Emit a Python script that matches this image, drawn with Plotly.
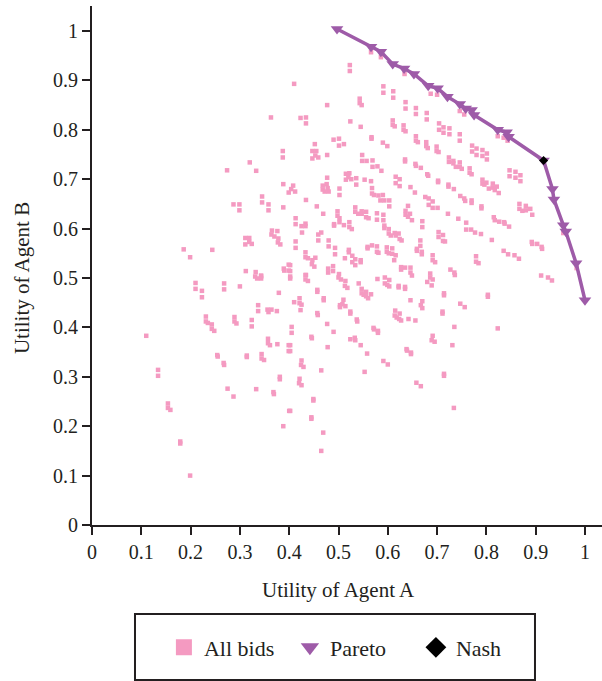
import plotly.graph_objects as go

# ---- data (utility of agent A, utility of agent B) ----
BIDS = [
    (0.523,0.931),(0.523,0.919),(0.410,0.893),(0.591,0.888),(0.591,0.875),(0.611,0.878),(0.611,0.865),
    (0.543,0.863),(0.543,0.854),(0.547,0.850),(0.477,0.850),(0.636,0.856),(0.636,0.843),(0.657,0.844),
    (0.657,0.832),(0.679,0.834),(0.679,0.821),(0.423,0.824),(0.434,0.825),(0.434,0.813),(0.524,0.817),
    (0.610,0.819),(0.610,0.810),(0.614,0.807),(0.632,0.809),(0.632,0.800),(0.636,0.797),(0.704,0.813),
    (0.704,0.800),(0.713,0.805),(0.713,0.794),(0.545,0.806),(0.567,0.785),(0.567,0.782),(0.590,0.774),
    (0.599,0.767),(0.657,0.787),(0.657,0.778),(0.661,0.775),(0.678,0.775),(0.678,0.767),(0.681,0.763),
    (0.699,0.766),(0.699,0.757),(0.703,0.755),(0.490,0.780),(0.501,0.782),(0.501,0.768),(0.511,0.771),
    (0.452,0.771),(0.447,0.757),(0.455,0.757),(0.453,0.748),(0.447,0.742),(0.459,0.744),(0.477,0.749),
    (0.548,0.749),(0.548,0.737),(0.557,0.737),(0.569,0.738),(0.569,0.725),(0.579,0.726),(0.587,0.717),
    (0.635,0.740),(0.635,0.736),(0.656,0.731),(0.657,0.727),(0.667,0.723),(0.680,0.710),(0.682,0.707),
    (0.702,0.697),(0.702,0.694),(0.515,0.711),(0.522,0.712),(0.520,0.704),(0.515,0.699),(0.526,0.700),
    (0.536,0.702),(0.536,0.689),(0.553,0.699),(0.566,0.696),(0.477,0.703),(0.468,0.687),(0.476,0.690),
    (0.478,0.682),(0.468,0.679),(0.472,0.675),(0.480,0.675),(0.408,0.687),(0.404,0.680),(0.412,0.675),
    (0.502,0.681),(0.502,0.668),(0.568,0.682),(0.568,0.671),(0.572,0.668),(0.581,0.667),(0.590,0.668),
    (0.585,0.657),(0.593,0.657),(0.603,0.657),(0.603,0.645),(0.616,0.705),(0.624,0.700),(0.616,0.692),
    (0.624,0.686),(0.646,0.684),(0.655,0.673),(0.676,0.664),(0.683,0.661),(0.683,0.648),(0.691,0.655),
    (0.691,0.642),(0.701,0.642),(0.434,0.658),(0.456,0.645),(0.469,0.630),(0.534,0.643),(0.534,0.634),
    (0.540,0.630),(0.547,0.635),(0.547,0.630),(0.556,0.634),(0.556,0.623),(0.561,0.621),(0.578,0.631),
    (0.591,0.628),(0.591,0.617),(0.578,0.618),(0.641,0.646),(0.636,0.636),(0.636,0.628),(0.641,0.624),
    (0.645,0.630),(0.649,0.617),(0.498,0.635),(0.498,0.626),(0.502,0.621),(0.502,0.613),(0.491,0.609),
    (0.491,0.606),(0.511,0.607),(0.522,0.613),(0.522,0.603),(0.527,0.599),(0.413,0.621),(0.413,0.609),
    (0.425,0.605),(0.433,0.610),(0.433,0.605),(0.426,0.592),(0.459,0.588),(0.465,0.592),(0.459,0.576),
    (0.413,0.574),(0.413,0.561),(0.593,0.606),(0.593,0.601),(0.602,0.599),(0.602,0.590),(0.614,0.591),
    (0.622,0.590),(0.624,0.579),(0.628,0.576),(0.616,0.586),(0.606,0.586),(0.670,0.615),(0.670,0.603),
    (0.703,0.593),(0.703,0.583),(0.712,0.587),(0.712,0.575),(0.666,0.576),(0.666,0.565),(0.659,0.559),
    (0.659,0.555),(0.669,0.553),(0.669,0.548),(0.480,0.576),(0.480,0.564),(0.493,0.561),(0.493,0.548),
    (0.559,0.563),(0.559,0.560),(0.568,0.566),(0.578,0.564),(0.578,0.553),(0.581,0.551),(0.598,0.562),
    (0.598,0.553),(0.609,0.560),(0.609,0.549),(0.616,0.546),(0.602,0.550),(0.433,0.552),(0.433,0.542),
    (0.438,0.540),(0.447,0.536),(0.453,0.541),(0.446,0.528),(0.451,0.523),(0.521,0.557),(0.521,0.552),
    (0.528,0.545),(0.528,0.532),(0.534,0.538),(0.545,0.536),(0.545,0.532),(0.534,0.526),(0.513,0.540),
    (0.613,0.536),(0.691,0.546),(0.691,0.536),(0.696,0.532),(0.627,0.522),(0.627,0.517),(0.635,0.521),
    (0.646,0.521),(0.646,0.511),(0.649,0.505),(0.686,0.509),(0.479,0.519),(0.479,0.511),(0.489,0.524),
    (0.489,0.514),(0.501,0.508),(0.402,0.526),(0.402,0.514),(0.434,0.506),(0.687,0.873),(0.700,0.871),
    # left, upper part
    (0.363,0.825),(0.387,0.757),(0.387,0.744),(0.320,0.734),(0.274,0.718),(0.333,0.717),(0.388,0.690),
    (0.399,0.673),(0.345,0.665),(0.345,0.653),(0.287,0.649),(0.299,0.649),(0.358,0.649),(0.388,0.643),
    (0.299,0.637),(0.358,0.637),(0.365,0.596),(0.376,0.595),(0.364,0.588),(0.370,0.584),(0.311,0.581),
    (0.319,0.581),(0.378,0.580),(0.319,0.573),(0.324,0.569),(0.311,0.568),(0.377,0.572),(0.382,0.568),
    (0.186,0.558),(0.244,0.557),(0.199,0.542),(0.389,0.519),(0.390,0.515),(0.399,0.527),(0.399,0.515),
    (0.312,0.514),(0.332,0.512),(0.343,0.505),
    # left, lower part
    (0.210,0.490),(0.210,0.478),(0.223,0.474),(0.223,0.461),(0.268,0.489),(0.268,0.477),(0.300,0.483),
    (0.331,0.503),(0.335,0.499),(0.343,0.503),(0.343,0.499),(0.379,0.470),(0.337,0.445),(0.337,0.433),
    (0.356,0.436),(0.358,0.431),(0.364,0.436),(0.375,0.433),(0.231,0.422),(0.231,0.412),(0.235,0.409),
    (0.243,0.406),(0.243,0.397),(0.248,0.393),(0.289,0.421),(0.289,0.412),(0.293,0.408),(0.324,0.415),
    (0.324,0.402),(0.110,0.383),(0.357,0.377),(0.357,0.368),(0.361,0.364),(0.376,0.366),(0.399,0.364),
    (0.399,0.352),(0.254,0.344),(0.255,0.341),(0.314,0.343),(0.314,0.340),(0.344,0.346),(0.344,0.337),
    (0.349,0.334),(0.267,0.328),(0.268,0.324),(0.134,0.314),(0.134,0.302),(0.381,0.300),(0.381,0.295),
    (0.275,0.276),(0.333,0.275),(0.287,0.260),(0.368,0.269),(0.369,0.265),(0.400,0.231),(0.388,0.200),
    (0.154,0.246),(0.154,0.237),(0.159,0.233),(0.179,0.169),(0.179,0.165),(0.199,0.100),
    # middle, lower part
    (0.402,0.503),(0.402,0.499),(0.433,0.506),(0.433,0.497),(0.438,0.494),(0.500,0.501),(0.505,0.497),
    (0.514,0.494),(0.513,0.484),(0.518,0.480),(0.541,0.489),(0.547,0.478),(0.547,0.469),(0.551,0.466),
    (0.556,0.472),(0.556,0.463),(0.560,0.459),(0.566,0.467),(0.579,0.498),(0.594,0.501),(0.594,0.489),
    (0.599,0.486),(0.603,0.496),(0.603,0.483),(0.622,0.484),(0.622,0.481),(0.635,0.482),(0.635,0.478),
    (0.680,0.492),(0.686,0.501),(0.691,0.497),(0.689,0.485),(0.714,0.469),(0.714,0.465),(0.457,0.476),
    (0.457,0.472),(0.470,0.459),(0.470,0.455),(0.410,0.451),(0.421,0.459),(0.421,0.449),(0.425,0.446),
    (0.423,0.435),(0.510,0.456),(0.503,0.445),(0.503,0.441),(0.508,0.447),(0.514,0.443),(0.457,0.429),
    (0.458,0.425),(0.524,0.432),(0.524,0.428),(0.537,0.416),(0.538,0.412),(0.646,0.455),(0.670,0.453),
    (0.667,0.445),(0.670,0.439),(0.711,0.432),(0.711,0.428),(0.615,0.434),(0.624,0.428),(0.614,0.424),
    (0.618,0.420),(0.623,0.417),(0.627,0.414),(0.642,0.417),(0.656,0.414),(0.405,0.401),(0.405,0.389),
    (0.477,0.407),(0.490,0.391),(0.445,0.381),(0.446,0.378),(0.571,0.399),(0.572,0.396),(0.580,0.393),
    (0.580,0.389),(0.524,0.376),(0.533,0.379),(0.534,0.374),(0.545,0.364),(0.558,0.347),(0.478,0.360),
    (0.402,0.364),(0.402,0.352),(0.691,0.383),(0.689,0.374),(0.695,0.371),(0.638,0.356),(0.639,0.353),
    (0.647,0.349),(0.647,0.346),(0.591,0.332),(0.600,0.325),(0.425,0.333),(0.424,0.324),(0.429,0.320),
    (0.465,0.313),(0.553,0.310),(0.421,0.296),(0.420,0.287),(0.425,0.283),(0.714,0.306),(0.714,0.302),
    (0.658,0.288),(0.667,0.281),(0.449,0.255),(0.449,0.252),(0.402,0.231),(0.445,0.218),(0.445,0.215),
    (0.469,0.187),(0.465,0.150),
    # right, lower part
    (0.736,0.506),(0.803,0.466),(0.803,0.462),(0.747,0.448),(0.756,0.441),(0.911,0.505),(0.925,0.501),
    (0.933,0.495),(0.735,0.401),(0.823,0.398),(0.731,0.364),(0.734,0.237),
    # right, upper part
    (0.746,0.838),(0.755,0.831),(0.725,0.803),(0.725,0.791),(0.746,0.791),(0.746,0.778),(0.823,0.787),
    (0.835,0.784),(0.843,0.778),(0.771,0.768),(0.771,0.756),(0.780,0.762),(0.780,0.749),(0.792,0.759),
    (0.792,0.747),(0.801,0.752),(0.801,0.740),(0.724,0.744),(0.724,0.735),(0.733,0.737),(0.733,0.732),
    (0.738,0.725),(0.746,0.734),(0.746,0.725),(0.750,0.721),(0.766,0.722),(0.766,0.713),(0.770,0.710),
    (0.847,0.718),(0.847,0.706),(0.859,0.715),(0.859,0.703),(0.869,0.708),(0.869,0.696),(0.792,0.699),
    (0.792,0.691),(0.796,0.689),(0.800,0.693),(0.805,0.681),(0.813,0.691),(0.813,0.683),(0.817,0.678),
    (0.821,0.685),(0.825,0.672),(0.723,0.689),(0.723,0.685),(0.734,0.680),(0.747,0.666),(0.755,0.661),
    (0.757,0.656),(0.770,0.657),(0.770,0.652),(0.790,0.645),(0.790,0.641),(0.867,0.650),(0.867,0.640),
    (0.880,0.646),(0.880,0.637),(0.889,0.640),(0.893,0.628),(0.873,0.636),(0.722,0.630),(0.743,0.620),
    (0.815,0.623),(0.817,0.617),(0.826,0.614),(0.836,0.613),(0.837,0.610),(0.846,0.604),(0.759,0.612),
    (0.759,0.598),(0.769,0.598),(0.777,0.592),(0.789,0.589),(0.811,0.577),(0.716,0.574),(0.892,0.573),
    (0.893,0.569),(0.903,0.569),(0.912,0.563),(0.913,0.559),(0.835,0.555),(0.844,0.548),(0.857,0.546),
    (0.866,0.539),(0.779,0.544),(0.779,0.533),(0.784,0.530),(0.727,0.517),(0.735,0.511),
    # bids lying under the Pareto markers
    (0.566,0.957),(0.586,0.947),(0.634,0.913),(0.956,0.591),(0.983,0.520),
]
bids_a = [p[0] for p in BIDS]
bids_b = [p[1] for p in BIDS]

pareto_a = [0.497, 0.566, 0.586, 0.610, 0.633, 0.653, 0.682, 0.701, 0.721, 0.746, 0.758, 0.770,
            0.775, 0.823, 0.841, 0.845, 0.916, 0.934, 0.937, 0.956, 0.961, 0.982, 1.000]
pareto_b = [1.004, 0.968, 0.958, 0.933, 0.924, 0.913, 0.889, 0.884, 0.867, 0.852, 0.843, 0.840,
            0.830, 0.800, 0.795, 0.786, 0.738, 0.680, 0.659, 0.607, 0.594, 0.530, 0.455]

nash_a = [0.916]
nash_b = [0.738]

tick_vals = [0, 0.1, 0.2, 0.3, 0.4, 0.5, 0.6, 0.7, 0.8, 0.9, 1]
tick_text = ["0", "0.1", "0.2", "0.3", "0.4", "0.5", "0.6", "0.7", "0.8", "0.9", "1"]

# ---- styles ----
PINK = "#F49AC1"
PURPLE = "#9E5BA8"
INK = "#231F20"
FONT = "Liberation Serif"

fig = go.Figure()
fig.add_trace(go.Scatter(x=bids_a, y=bids_b, mode="markers", name="All bids", showlegend=False,
                         marker=dict(symbol="square", size=4.5, color=PINK)))
fig.add_trace(go.Scatter(x=pareto_a, y=pareto_b, mode="lines+markers", name="Pareto", showlegend=False,
                         line=dict(color=PURPLE, width=3.5),
                         marker=dict(symbol="triangle-down", size=11, color=PURPLE)))
fig.add_trace(go.Scatter(x=nash_a, y=nash_b, mode="markers", name="Nash", showlegend=False,
                         marker=dict(symbol="diamond", size=7, color="black")))

# legend entries (larger symbols, like the reference legend)
fig.add_trace(go.Scatter(x=[None], y=[None], mode="markers", name="All bids",
                         marker=dict(symbol="square", size=16, color=PINK)))
fig.add_trace(go.Scatter(x=[None], y=[None], mode="markers", name="Pareto",
                         marker=dict(symbol="triangle-down", size=16, color=PURPLE)))
fig.add_trace(go.Scatter(x=[None], y=[None], mode="markers", name="Nash",
                         marker=dict(symbol="diamond", size=16, color="black")))

axis_common = dict(
    showgrid=False, zeroline=False, showline=True, linecolor=INK, linewidth=2,
    ticks="outside", ticklen=8, tickwidth=2, tickcolor=INK,
    tickvals=tick_vals, ticktext=tick_text,
    tickfont=dict(family=FONT, size=20, color=INK),
)

fig.update_layout(
    width=602, height=681,
    margin=dict(l=92, r=0, t=6, b=156),
    paper_bgcolor="white", plot_bgcolor="white",
    xaxis=dict(range=[0, 1.0345], **axis_common),
    yaxis=dict(range=[0, 1.0506], **axis_common),
    showlegend=True,
    legend=dict(orientation="h", x=0.141, xanchor="left", y=-0.236, yanchor="middle",
                font=dict(family=FONT, size=22, color=INK),
                bgcolor="rgba(0,0,0,0)", borderwidth=0, entrywidth=81),
    shapes=[dict(type="rect", xref="paper", yref="paper",
                 x0=0.0843, x1=0.8686, y0=-0.2987, y1=-0.1715,
                 line=dict(color=INK, width=2), fillcolor="rgba(0,0,0,0)")],
    annotations=[
        dict(text="Utility of Agent A", xref="paper", yref="paper", x=0.4833, y=-0.1252,
             xanchor="center", yanchor="middle", showarrow=False,
             font=dict(family=FONT, size=21, color=INK)),
        dict(text="Utility of Agent B", xref="paper", yref="paper", x=-0.137, y=0.476,
             xanchor="center", yanchor="middle", showarrow=False, textangle=-90,
             font=dict(family=FONT, size=21, color=INK)),
    ],
)

fig.write_html("out.html")
